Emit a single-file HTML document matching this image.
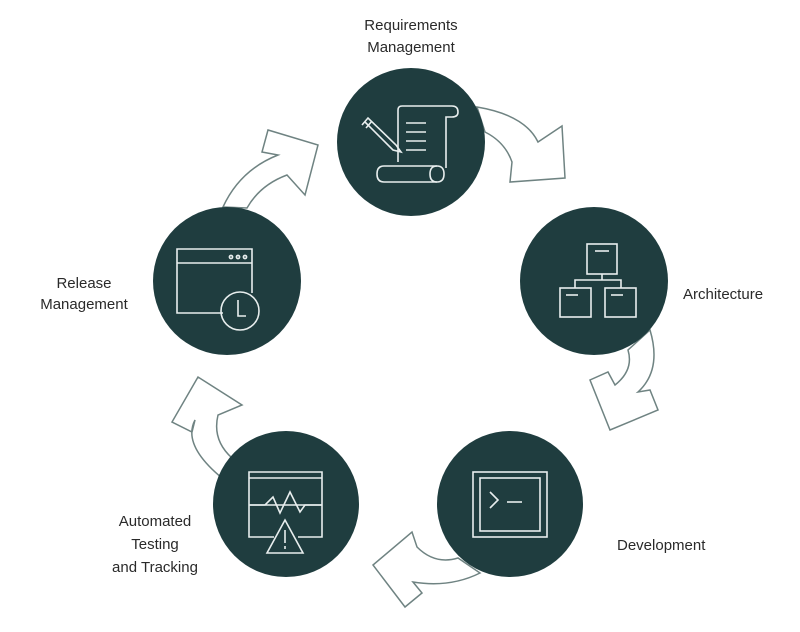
<!DOCTYPE html>
<html><head><meta charset="utf-8"><style>
html,body{margin:0;padding:0;background:#fff;}
svg{display:block;}
text{font-family:"Liberation Sans",sans-serif;font-size:15px;fill:#2a2a2a;}
</style></head><body>
<svg width="800" height="632" viewBox="0 0 800 632" xmlns="http://www.w3.org/2000/svg">
<g fill="#fff" stroke="#6f8382" stroke-width="1.5" stroke-linejoin="miter">
<path d="M477,107 Q525,115 538,142 L562,126 L565,178 L510,182 L512,162 Q505,142 485,132 Z"/>
<path d="M223,207 Q240,170 278,155 L262,152 L268,130 L318,145 L305,195 L287,175 Q260,185 247,208 Z"/>
<path d="M650,330 Q662,370 638,392 L650,390 L658,410 L610,430 L590,380 L608,372 L615,385 Q634,370 628,350 Z"/>
<path d="M458,558 Q435,565 417,547 L412,532 L373,565 L405,607 L422,593 L413,582 Q450,588 480,573 Z"/>
<path d="M222,478 Q182,445 195,420 L192,432 L172,422 L198,377 L242,405 L218,415 Q212,440 232,458 Z"/>
</g>
<g fill="#1f3d3f">
<circle cx="411" cy="142" r="74"/>
<circle cx="594" cy="281" r="74"/>
<circle cx="227" cy="281" r="74"/>
<circle cx="286" cy="504" r="73"/>
<circle cx="510" cy="504" r="73"/>
</g>
<g fill="none" stroke="#e8eeee" stroke-width="1.6">
<path d="M398,162 L398,110 Q398,106 402,106 L452,106 Q458,106 458,112 Q458,117 452,117 L446,117 L446,168"/>
<path d="M384,166 L437,166 Q444,166 444,174 Q444,182 437,182 L384,182 Q377,182 377,174 Q377,166 384,166 Z"/>
<path d="M437,166 Q430,166 430,174 Q430,182 437,182"/>
<line x1="406" y1="123" x2="426" y2="123"/><line x1="406" y1="132" x2="426" y2="132"/><line x1="406" y1="141" x2="426" y2="141"/><line x1="406" y1="150" x2="426" y2="150"/>
<path d="M362,125 L368,118 L396,145 L401,152 L393,150 L365,122"/>
<line x1="366" y1="128" x2="372" y2="121"/>
<rect x="587" y="244" width="30" height="30"/>
<line x1="595" y1="251" x2="609" y2="251"/>
<path d="M602,274 V280 M575,288 V280 H621 V288"/>
<rect x="560" y="288" width="31" height="29"/>
<rect x="605" y="288" width="31" height="29"/>
<line x1="566" y1="295" x2="578" y2="295"/><line x1="611" y1="295" x2="623" y2="295"/>
<path d="M223,313 L177,313 L177,249 L252,249 L252,293"/>
<line x1="177" y1="263" x2="252" y2="263"/>
<circle cx="231" cy="257" r="1.6"/><circle cx="238" cy="257" r="1.6"/><circle cx="245" cy="257" r="1.6"/>
<circle cx="240" cy="311" r="19"/>
<path d="M238,300 V316 H246"/>
<path d="M274,537 H249 V472 H322 V537 H298"/>
<line x1="249" y1="478" x2="322" y2="478"/>
<line x1="249" y1="505" x2="322" y2="505"/>
<path d="M250,505 H265 L273,497 L280,513 L290,492 L300,512 L305,505 H322"/>
<path d="M285,520 L303,553 L267,553 Z" fill="#1f3d3f"/>
<line x1="285" y1="530" x2="285" y2="543"/><line x1="285" y1="546" x2="285" y2="549"/>
<rect x="473" y="472" width="74" height="65"/>
<rect x="480" y="478" width="60" height="53"/>
<path d="M490,492 L498,500 L490,508"/>
<line x1="507" y1="502" x2="522" y2="502"/>
</g>
<text x="411" y="30" text-anchor="middle">Requirements</text>
<text x="411" y="52" text-anchor="middle">Management</text>
<text x="683" y="299">Architecture</text>
<text x="84" y="288" text-anchor="middle">Release</text>
<text x="84" y="309" text-anchor="middle">Management</text>
<text x="617" y="550">Development</text>
<text x="155" y="526" text-anchor="middle">Automated</text>
<text x="155" y="549" text-anchor="middle">Testing</text>
<text x="155" y="572" text-anchor="middle">and Tracking</text>
</svg>
</body></html>
